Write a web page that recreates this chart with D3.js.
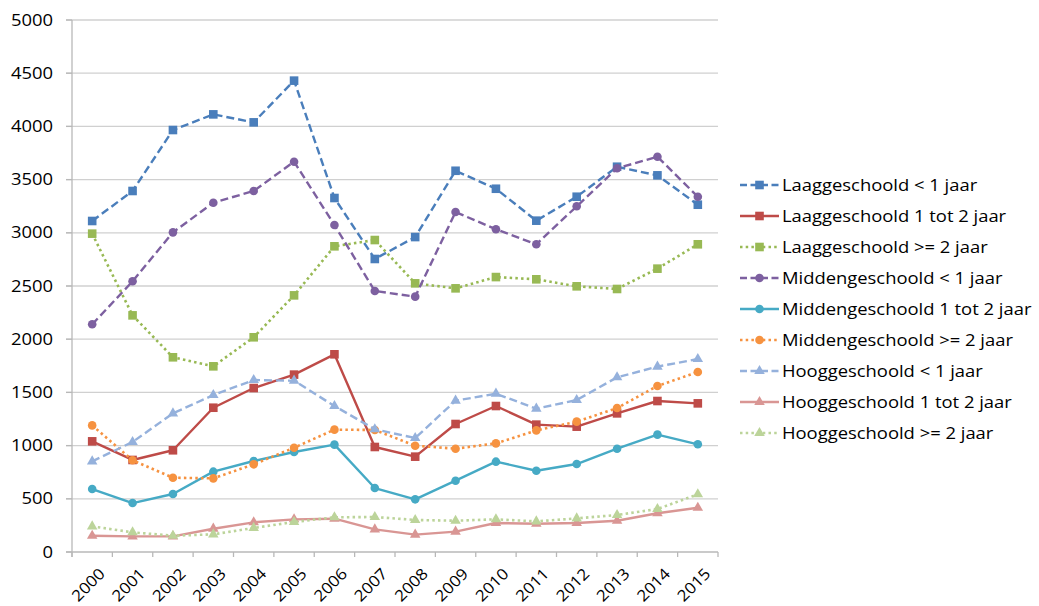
<!DOCTYPE html>
<html>
<head>
<meta charset="utf-8">
<script src="https://cdn.jsdelivr.net/npm/d3@7"></script>
<style>
  body { margin: 0; background: #fff; }
  svg { display: block; }
  text { font-family: "Open Sans", sans-serif; fill: #000; }
</style>
</head>
<body>
<div id="chart"></div>
<script>
// data
const years = ["2000","2001","2002","2003","2004","2005","2006","2007","2008","2009","2010","2011","2012","2013","2014","2015"];
const yTicks = [0, 500, 1000, 1500, 2000, 2500, 3000, 3500, 4000, 4500, 5000];

const laagKort   = [3111, 3393, 3966, 4113, 4038, 4430, 3327, 2754, 2960, 3583, 3414, 3114, 3339, 3621, 3540, 3264];
const laagMidden = [1040, 865, 956, 1356, 1541, 1667, 1858, 987, 896, 1203, 1372, 1197, 1178, 1303, 1419, 1397];
const laagLang   = [2992, 2224, 1830, 1745, 2018, 2412, 2873, 2932, 2525, 2478, 2584, 2563, 2497, 2472, 2663, 2892];
const middKort   = [2140, 2544, 3004, 3283, 3393, 3668, 3073, 2453, 2400, 3195, 3033, 2892, 3249, 3606, 3715, 3339];
const middMidden = [592, 460, 545, 755, 855, 940, 1009, 601, 495, 670, 849, 764, 827, 971, 1103, 1012];
const middLang   = [1190, 862, 698, 692, 824, 980, 1150, 1147, 999, 971, 1021, 1143, 1225, 1353, 1560, 1692];
const hoogKort   = [852, 1034, 1303, 1475, 1616, 1610, 1372, 1153, 1071, 1422, 1488, 1347, 1428, 1642, 1742, 1814];
const hoogMidden = [153, 147, 147, 219, 279, 307, 313, 213, 163, 191, 273, 266, 273, 294, 364, 416];
const hoogLang   = [241, 185, 153, 166, 226, 282, 326, 329, 301, 294, 307, 288, 316, 348, 404, 542];

const seriesNames = [
  "Laaggeschoold < 1 jaar", "Laaggeschoold 1 tot 2 jaar", "Laaggeschoold >= 2 jaar",
  "Middengeschoold < 1 jaar", "Middengeschoold 1 tot 2 jaar", "Middengeschoold >= 2 jaar",
  "Hooggeschoold < 1 jaar", "Hooggeschoold 1 tot 2 jaar", "Hooggeschoold >= 2 jaar"
];
const seriesValues = [laagKort, laagMidden, laagLang, middKort, middMidden, middLang, hoogKort, hoogMidden, hoogLang];
const seriesColors = ["#4a7ebb", "#be4b48", "#98b954", "#7d60a0", "#46aac5", "#f69240", "#95b1dc", "#d99694", "#bcd49a"];
const seriesDash   = ["dash", "solid", "dot", "dash", "solid", "dot", "dash", "solid", "dot"];
const seriesMarker = ["square", "square", "square", "circle", "circle", "circle", "triangle", "triangle", "triangle"];

const width = 1039, height = 606;
const plot = { left: 72, right: 718, top: 20, bottom: 552 };
const stretch = 1.18; // text in the picture is drawn wide

const svg = d3.select("#chart").append("svg")
    .attr("width", width)
    .attr("height", height);

const x = d3.scaleBand().domain(years).range([plot.left, plot.right]);
const y = d3.scaleLinear().domain([0, 5000]).range([plot.bottom, plot.top]);
const cx = d => x(d) + x.bandwidth() / 2;

// gridlines
svg.append("g")
  .selectAll("line")
  .data(yTicks.filter(t => t > 0))
  .join("line")
    .attr("x1", plot.left - 6)
    .attr("x2", plot.right)
    .attr("y1", d => y(d))
    .attr("y2", d => y(d))
    .attr("stroke", "#d0d0d0")
    .attr("stroke-width", 1.3);

// y axis
const yAxis = svg.append("g");
yAxis.append("line")
    .attr("x1", plot.left).attr("x2", plot.left)
    .attr("y1", plot.top).attr("y2", plot.bottom + 5)
    .attr("stroke", "#b8b8b8").attr("stroke-width", 1.3);
yAxis.selectAll("line.tick")
  .data(yTicks)
  .join("line")
    .attr("class", "tick")
    .attr("x1", plot.left - 6).attr("x2", plot.left)
    .attr("y1", d => y(d)).attr("y2", d => y(d))
    .attr("stroke", "#b8b8b8").attr("stroke-width", 1.3);
yAxis.selectAll("text")
  .data(yTicks)
  .join("text")
    .attr("transform", d => `translate(53,${y(d)}) scale(${stretch},1)`)
    .attr("dy", "0.36em")
    .attr("text-anchor", "end")
    .attr("font-size", "15.6px")
    .text(d => d);

// x axis
const xAxis = svg.append("g");
xAxis.append("line")
    .attr("x1", plot.left - 6).attr("x2", plot.right)
    .attr("y1", plot.bottom).attr("y2", plot.bottom)
    .attr("stroke", "#b8b8b8").attr("stroke-width", 1.3);
xAxis.selectAll("line.tick")
  .data(years.concat(["end"]))
  .join("line")
    .attr("class", "tick")
    .attr("x1", (d, i) => plot.left + i * x.bandwidth())
    .attr("x2", (d, i) => plot.left + i * x.bandwidth())
    .attr("y1", plot.bottom).attr("y2", plot.bottom + 5)
    .attr("stroke", "#b8b8b8").attr("stroke-width", 1.3);
xAxis.selectAll("text")
  .data(years)
  .join("text")
    .attr("transform", d => `translate(${cx(d) + 6},${plot.bottom + 15}) rotate(-45) scale(1.1,1)`)
    .attr("text-anchor", "end")
    .attr("dy", "0.7em")
    .attr("font-size", "15.6px")
    .text(d => d);

function dashArray(kind) {
  if (kind === "dash") return "8,4";
  if (kind === "dot") return "2.5,3.2";
  return null;
}

function drawMarker(sel, kind, color) {
  if (kind === "square") {
    sel.append("rect")
        .attr("x", -4.3).attr("y", -4.3)
        .attr("width", 8.6).attr("height", 8.6)
        .attr("fill", color);
  } else if (kind === "circle") {
    sel.append("circle")
        .attr("r", 4.3)
        .attr("fill", color);
  } else {
    sel.append("path")
        .attr("d", d3.symbol(d3.symbolTriangle, 48)())
        .attr("fill", color);
  }
}

const line = d3.line()
    .x((d, i) => cx(years[i]))
    .y(d => y(d));

const series = seriesNames.map((name, i) => ({
  name: name,
  values: seriesValues[i],
  color: seriesColors[i],
  dash: seriesDash[i],
  marker: seriesMarker[i]
}));

const lines = svg.append("g")
  .selectAll("g")
  .data(series)
  .join("g");

lines.append("path")
    .attr("d", d => line(d.values))
    .attr("fill", "none")
    .attr("stroke", d => d.color)
    .attr("stroke-width", d => d.dash === "dot" ? 2.6 : 2.4)
    .attr("stroke-dasharray", d => dashArray(d.dash))
    .attr("stroke-linejoin", "round");

lines.each(function(s) {
  d3.select(this).selectAll("g.pt")
    .data(s.values)
    .join("g")
      .attr("class", "pt")
      .attr("transform", (d, i) => `translate(${cx(years[i])},${y(d)})`)
      .each(function() { drawMarker(d3.select(this), s.marker, s.color); });
});

// legend
const legend = svg.append("g")
  .selectAll("g")
  .data(series)
  .join("g")
    .attr("transform", (d, i) => `translate(740,${185 + i * 31})`);

legend.append("line")
    .attr("x1", 0).attr("x2", 39)
    .attr("stroke", d => d.color)
    .attr("stroke-width", d => d.dash === "dot" ? 2.6 : 2.4)
    .attr("stroke-dasharray", d => d.dash === "dash" ? "7,3.5" : dashArray(d.dash));

legend.append("g")
    .attr("transform", "translate(19.5,0)")
    .each(function(d) { drawMarker(d3.select(this), d.marker, d.color); });

legend.append("text")
    .attr("transform", `translate(42,0) scale(${stretch},1)`)
    .attr("dy", "0.36em")
    .attr("font-size", "15.6px")
    .text(d => d.name);
</script>
</body>
</html>
